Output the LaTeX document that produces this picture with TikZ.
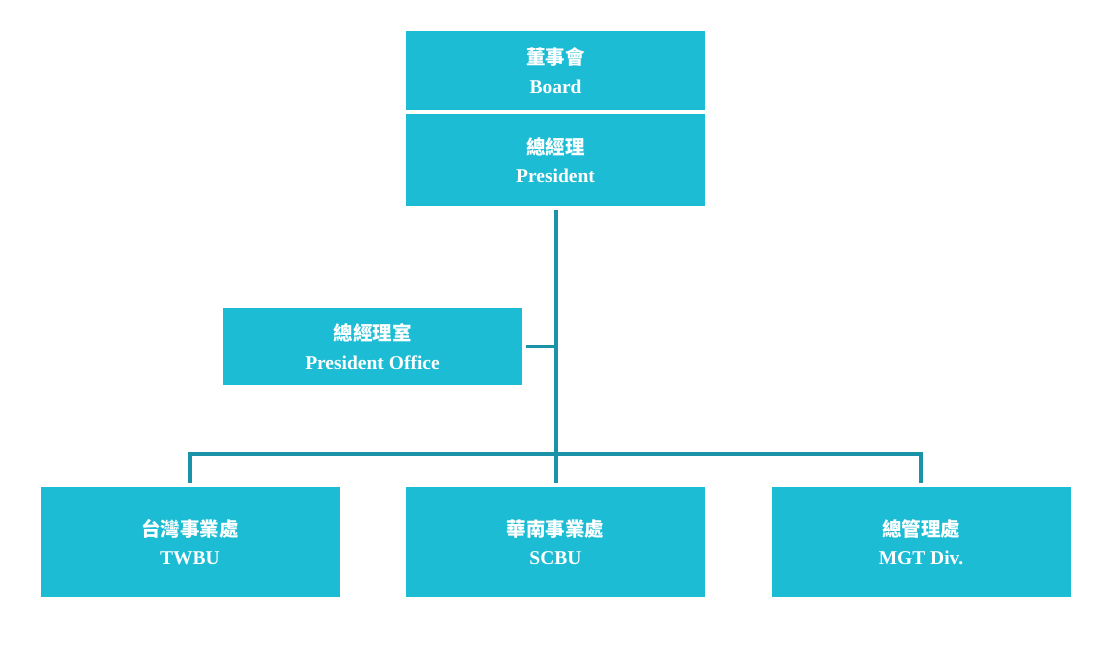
\documentclass[tikz,border=0pt]{standalone}
\usepackage{fontspec}
\setmainfont{Liberation Serif}
\newfontfamily\cjk{Noto Sans CJK TC}
\definecolor{boxfill}{HTML}{1CBCD4}
\definecolor{linecol}{HTML}{1A93A8}
\newcommand{\boxtext}[2]{{\cjk\bfseries #1}\\{\bfseries #2}}
\begin{document}
\begin{tikzpicture}[x=1pt,y=-1pt,
  orgbox/.style={fill=boxfill,draw=none,text=white,inner sep=0pt,align=center,
    minimum width=299pt,font=\fontsize{19.5}{28.5}\selectfont},
  conn/.style={draw=linecol,line width=3.5pt}]
\useasboundingbox (0,0) rectangle (1116,648);
\node[orgbox,minimum height=79pt] (board) at (555.5,70.5) {\boxtext{董事會}{Board}};
\node[orgbox,minimum height=92pt] (pres) at (555.5,160) {\boxtext{總經理}{President}};
\node[orgbox,minimum height=77pt] (office) at (372.5,346.5) {\boxtext{總經理室}{President Office}};
\node[orgbox,minimum height=110pt] (twbu) at (190,542) {\boxtext{台灣事業處}{TWBU}};
\node[orgbox,minimum height=110pt] (scbu) at (555.5,542) {\boxtext{華南事業處}{SCBU}};
\node[orgbox,minimum height=110pt] (mgt) at (921,542) {\boxtext{總管理處}{MGT Div.}};
\coordinate (bus) at (556,454);
\draw[conn] ([yshift=-4pt]pres.south -| bus) -- ([yshift=4pt]scbu.north -| bus);
\draw[conn] ([xshift=4pt]office.east) -- (office.east -| bus);
\draw[conn] ([yshift=4pt]twbu.north) -- (twbu.north |- bus) -- (mgt.north |- bus) -- ([yshift=4pt]mgt.north);
\end{tikzpicture}
\end{document}
